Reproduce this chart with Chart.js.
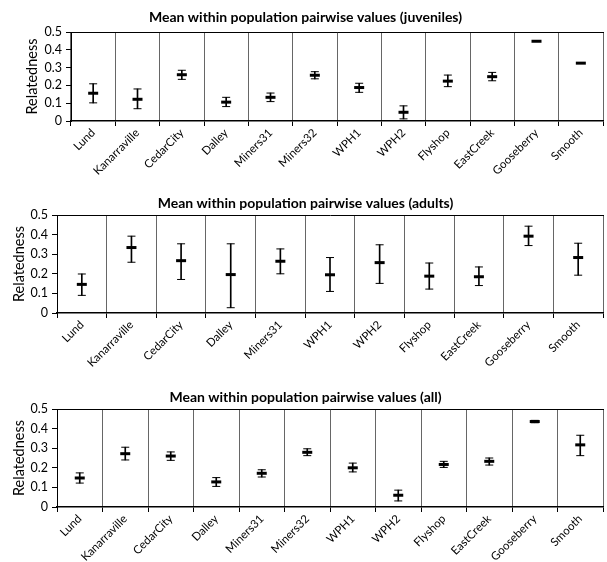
<!DOCTYPE html>
<html>
<head>
<meta charset="utf-8">
<script src="https://cdn.jsdelivr.net/npm/chart.js@4/dist/chart.umd.min.js"></script>
<style>
  html, body { margin: 0; padding: 0; background: #fff; overflow: hidden; }
  canvas { display: block; }
</style>
</head>
<body>
<div style="width:611px;height:187px"><canvas id="juv"></canvas></div>
<div style="width:611px;height:190px"><canvas id="adu"></canvas></div>
<div style="width:611px;height:185px"><canvas id="all"></canvas></div>
<script>
// categories
const juvCats = ['Lund', 'Kanarraville', 'CedarCity', 'Dalley', 'Miners31', 'Miners32', 'WPH1', 'WPH2', 'Flyshop', 'EastCreek', 'Gooseberry', 'Smooth'];
const aduCats = ['Lund', 'Kanarraville', 'CedarCity', 'Dalley', 'Miners31', 'WPH1', 'WPH2', 'Flyshop', 'EastCreek', 'Gooseberry', 'Smooth'];
const allCats = juvCats;

// juveniles: mean and error bar ends
const juvMean = [0.156, 0.122, 0.26, 0.106, 0.133, 0.257, 0.188, 0.049, 0.224, 0.249, 0.448, 0.325];
const juvLow  = [0.102, 0.069, 0.234, 0.081, 0.109, 0.237, 0.161, 0.012, 0.193, 0.226, null, null];
const juvHigh = [0.209, 0.18, 0.285, 0.133, 0.157, 0.277, 0.212, 0.085, 0.258, 0.273, null, null];

// adults
const aduMean = [0.146, 0.334, 0.267, 0.196, 0.264, 0.195, 0.257, 0.188, 0.185, 0.392, 0.283];
const aduLow  = [0.09, 0.259, 0.171, 0.027, 0.2, 0.11, 0.151, 0.122, 0.14, 0.344, 0.193];
const aduHigh = [0.199, 0.392, 0.353, 0.353, 0.327, 0.283, 0.348, 0.255, 0.235, 0.443, 0.356];

// all
const allMean = [0.148, 0.272, 0.26, 0.128, 0.172, 0.279, 0.2, 0.06, 0.217, 0.233, 0.436, 0.317];
const allLow  = [0.122, 0.24, 0.238, 0.105, 0.153, 0.262, 0.179, 0.031, 0.202, 0.214, 0.43, 0.262];
const allHigh = [0.174, 0.305, 0.281, 0.15, 0.19, 0.297, 0.224, 0.086, 0.233, 0.25, 0.442, 0.366];

// y ticks
const yTicks = [0, 0.1, 0.2, 0.3, 0.4, 0.5];

Chart.defaults.font.family = 'Lato, "Noto Sans", sans-serif';
Chart.defaults.color = '#000';

function panel(id, cats, mean, low, high, opt) {
    const capStyle = {
        type: 'line', showLine: false, pointStyle: 'line',
        pointRadius: 4, pointBorderWidth: 1, pointBorderColor: '#000',
        pointHoverRadius: 4
    };
    return new Chart(document.getElementById(id), {
        type: 'bar',
        data: {
            labels: cats,
            datasets: [
                {
                    type: 'bar',
                    data: low.map((l, i) => (l == null ? null : [l, high[i]])),
                    backgroundColor: '#000',
                    barThickness: 1,
                    grouped: false
                },
                Object.assign({ data: high }, capStyle),
                Object.assign({ data: low }, capStyle),
                {
                    type: 'line', showLine: false, data: mean,
                    pointStyle: 'line', pointRadius: 5, pointBorderWidth: 3,
                    pointBorderColor: '#000', pointHoverRadius: 5
                }
            ]
        },
        options: {
            responsive: true,
            maintainAspectRatio: false,
            animation: false,
            events: [],
            plugins: {
                legend: { display: false },
                tooltip: { enabled: false },
                title: {
                    display: true,
                    text: opt.title,
                    font: { size: 14, weight: 'bold' },
                    padding: { top: opt.titleTop, bottom: opt.titleBottom }
                }
            },
            scales: {
                x: {
                    type: 'category',
                    offset: true,
                    grid: { offset: true, color: '#666', lineWidth: 1, tickLength: 5, tickColor: '#000' },
                    border: { color: '#000', width: 1.5 },
                    ticks: { minRotation: 45, maxRotation: 45, autoSkip: false, padding: 0, font: { size: 11.5 } },
                    afterFit: s => { s.height = opt.xHeight; }
                },
                x2: {
                    type: 'category',
                    position: 'top',
                    offset: true,
                    grid: { display: false },
                    ticks: { display: false },
                    border: { color: '#000', width: 1 },
                    afterFit: s => { s.height = 0; }
                },
                y: {
                    min: 0, max: 0.5,
                    afterBuildTicks: s => { s.ticks = yTicks.map(v => ({ value: v })); },
                    ticks: { padding: 4, autoSkip: false, font: { size: 12.5 } },
                    grid: { drawOnChartArea: false, tickLength: 5, color: '#000' },
                    border: { color: '#000', width: 1 },
                    title: {
                        display: true, text: 'Relatedness',
                        font: { size: 14.5 },
                        padding: { top: opt.yTitlePad, bottom: 0 }
                    },
                    afterFit: s => { s.width = opt.yWidth; }
                }
            }
        }
    });
}

panel('juv', juvCats, juvMean, juvLow, juvHigh, {
    title: 'Mean within population pairwise values (juveniles)',
    titleTop: 9.4, titleBottom: 5.8, xHeight: 66, yWidth: 71, yTitlePad: 24
});
panel('adu', aduCats, aduMean, aduLow, aduHigh, {
    title: 'Mean within population pairwise values (adults)',
    titleTop: 7.6, titleBottom: 3.6, xHeight: 64, yWidth: 57, yTitlePad: 11
});
panel('all', allCats, allMean, allLow, allHigh, {
    title: 'Mean within population pairwise values (all)',
    titleTop: 11.6, titleBottom: 3.6, xHeight: 55, yWidth: 57, yTitlePad: 11
});
</script>
</body>
</html>
